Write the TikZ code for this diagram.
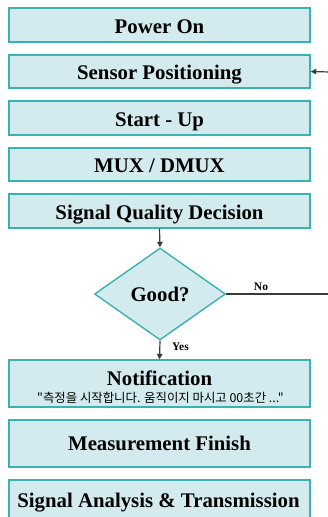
\documentclass[tikz,border=0pt]{standalone}
\usepackage{fontspec}
\setmainfont{Liberation Serif}
\newfontfamily\krfont{Noto Sans CJK KR}
\usetikzlibrary{shapes.geometric,arrows.meta}
\definecolor{boxfill}{HTML}{D3EBEF}
\definecolor{boxline}{HTML}{3AB2B0}
\definecolor{lineclr}{HTML}{3A3A3A}
\tikzset{
  titlefont/.style={font=\bfseries\fontsize{20.8}{24}\selectfont},
  stepbox/.style={draw=boxline,fill=boxfill,line width=1.4pt,minimum width=301pt,inner sep=0pt,titlefont,text=black,text height=16pt,text depth=0pt},
  decide/.style={diamond,draw=boxline,fill=boxfill,line width=1.4pt,minimum width=131pt,minimum height=92pt,inner sep=0pt,aspect=1.42,titlefont,text height=14pt,text depth=0pt},
  flow/.style={draw=lineclr,line width=1.2pt,-{Triangle[length=5.5pt,width=5.5pt]}},
  plain/.style={draw=lineclr,line width=1.2pt},
  lbl/.style={font=\bfseries\fontsize{11.5}{13}\selectfont,anchor=base}
}
\begin{document}
\begin{tikzpicture}[x=1pt,y=-1pt]
\useasboundingbox (0,0) rectangle (328,517);
\clip (0,0) rectangle (328,517);
\node[stepbox,minimum height=34pt] (power) at (159.5,25) {Power On};
\node[stepbox,minimum height=33pt] (sensor) at (159.5,71.5) {Sensor Positioning};
\node[stepbox,minimum height=34pt] (start) at (159.5,118) {Start - Up};
\node[stepbox,minimum height=33pt] (mux) at (159.5,164.5) {MUX / DMUX};
\node[stepbox,minimum height=34pt] (sqd) at (159.5,211) {Signal Quality Decision};
\node[decide] (good) at (160,294) {Good?};
\node[stepbox,minimum height=47pt] (notif) at (159.5,383.5) {};
\node[titlefont,anchor=base] (notiftitle) at (159.5,385) {Notification};
\node[font=\krfont\fontsize{12.4}{14}\selectfont,anchor=base] (notifsub) at (160.5,402) {"측정을 시작합니다. 움직이지 마시고 00초간 ..."};
\node[stepbox,minimum height=47pt,text height=13pt] (finish) at (159.5,443.5) {Measurement Finish};
\node[stepbox,minimum height=47pt] (analysis) at (159.5,503.5) {};
\node[titlefont,anchor=base] (analysistitle) at (158.5,507) {Signal Analysis \& Transmission};
\coordinate (noend) at (330,294);
\coordinate (backin) at (330,72);
\draw[flow] (sqd.south) -- (good.north);
\draw[flow] (good.south) -- (notif.north);
\draw[plain] (good.east) -- (noend);
\draw[flow] (backin) -- (sensor.east);
\node[lbl] (no) at (261,290) {No};
\node[lbl] (yes) at (180.5,350) {Yes};
\end{tikzpicture}
\end{document}
